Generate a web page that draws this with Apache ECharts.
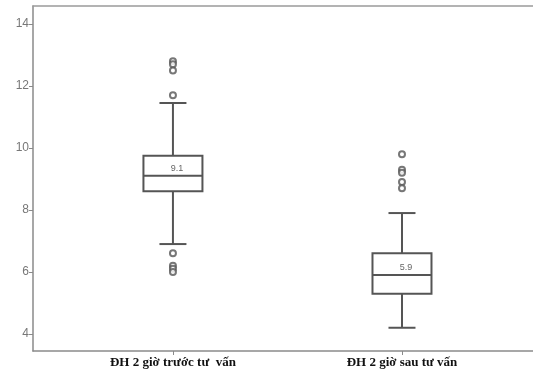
<!DOCTYPE html>
<html>
<head>
<meta charset="utf-8">
<script src="https://cdn.jsdelivr.net/npm/echarts@6/dist/echarts.min.js"></script>
<style>
html,body{margin:0;padding:0;background:#fff;}
#c{width:533px;height:374px;}
</style>
</head>
<body>
<div id="c"></div>
<script>
var categories = ['ĐH 2 giờ trước tư  vấn', 'ĐH 2 giờ sau tư vấn'];
// [min whisker, Q1, median, Q3, max whisker]
var boxBefore = [6.9, 8.6, 9.1, 9.75, 11.45];
var boxAfter = [4.2, 5.3, 5.9, 6.6, 7.9];
var outliersBefore = [12.8, 12.7, 12.5, 11.7, 6.6, 6.2, 6.1, 6.0];
var outliersAfter = [9.8, 9.3, 9.2, 8.9, 8.7];
var medianLabels = ['9.1', '5.9'];
var yTicks = [4, 6, 8, 10, 12, 14];

var boxes = [boxBefore, boxAfter];
var boxData = boxes.map(function (b, i) { return [i + 1].concat(b); });
var outlierData = [];
outliersBefore.forEach(function (v) { outlierData.push([1, v]); });
outliersAfter.forEach(function (v) { outlierData.push([2, v]); });

var lineColor = '#555555';
var chart = echarts.init(document.getElementById('c'));
chart.setOption({
  animation: false,
  backgroundColor: '#ffffff',
  grid: { left: 33, right: 0, top: 6, bottom: 23 },
  xAxis: [{
    type: 'value', min: 0.389, max: 2.572,
    splitLine: { show: false },
    axisLine: { show: true, lineStyle: { color: '#8a8a8a', width: 1.5 } },
    axisTick: { show: true, customValues: [1, 2], length: 4, lineStyle: { color: '#8a8a8a' } },
    axisLabel: {
      customValues: [1, 2],
      formatter: function (v) { return categories[Math.round(v) - 1]; },
      color: '#111', fontFamily: 'Liberation Serif', fontWeight: 'bold', fontSize: 13, margin: 5
    }
  }, {
    type: 'value', position: 'top', min: 0.389, max: 2.572,
    splitLine: { show: false },
    axisLine: { show: true, onZero: false, lineStyle: { color: '#9a9a9a', width: 1.5 } },
    axisTick: { show: false }, axisLabel: { show: false }
  }],
  yAxis: {
    type: 'value', min: 3.45, max: 14.58,
    splitLine: { show: false },
    axisLine: { show: true, onZero: false, lineStyle: { color: '#8a8a8a', width: 1.5 } },
    axisTick: { show: true, customValues: yTicks, length: 4, lineStyle: { color: '#8a8a8a' } },
    axisLabel: { customValues: yTicks, color: '#777', fontFamily: 'Liberation Sans', fontSize: 12, margin: 4 }
  },
  series: [{
    type: 'custom',
    data: boxData,
    encode: { x: 0, y: [1, 2, 3, 4, 5] },
    renderItem: function (params, api) {
      var x = api.value(0);
      var pMin = api.coord([x, api.value(1)]);
      var pQ1 = api.coord([x, api.value(2)]);
      var pMed = api.coord([x, api.value(3)]);
      var pQ3 = api.coord([x, api.value(4)]);
      var pMax = api.coord([x, api.value(5)]);
      var cx = pMed[0];
      var hw = 29.5, cw = 13.5;
      var st = { stroke: lineColor, lineWidth: 2, fill: null };
      return {
        type: 'group',
        children: [
          { type: 'line', shape: { x1: cx, y1: pQ3[1], x2: cx, y2: pMax[1] }, style: st },
          { type: 'line', shape: { x1: cx, y1: pQ1[1], x2: cx, y2: pMin[1] }, style: st },
          { type: 'line', shape: { x1: cx - cw, y1: pMax[1], x2: cx + cw, y2: pMax[1] }, style: st },
          { type: 'line', shape: { x1: cx - cw, y1: pMin[1], x2: cx + cw, y2: pMin[1] }, style: st },
          { type: 'rect', shape: { x: cx - hw, y: pQ3[1], width: hw * 2, height: pQ1[1] - pQ3[1] }, style: { stroke: lineColor, lineWidth: 2, fill: '#fff' } },
          { type: 'line', shape: { x1: cx - hw, y1: pMed[1], x2: cx + hw, y2: pMed[1] }, style: st },
          { type: 'text', x: cx + 4, y: pMed[1] - 3, style: { text: medianLabels[params.dataIndex], fill: '#666', font: '9px Liberation Sans', align: 'center', verticalAlign: 'bottom' } }
        ]
      };
    }
  }, {
    type: 'scatter',
    data: outlierData,
    symbol: 'emptyCircle',
    symbolSize: 6,
    itemStyle: { color: lineColor, borderColor: lineColor, borderWidth: 1.5 }
  }]
});
</script>
</body>
</html>
